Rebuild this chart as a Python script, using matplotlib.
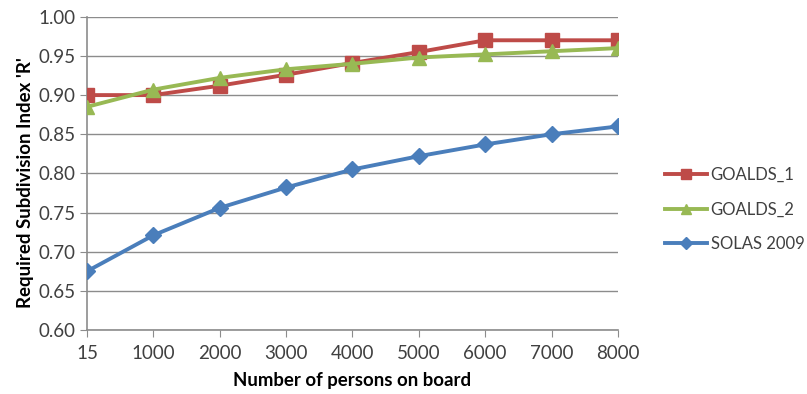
import matplotlib
matplotlib.use("Agg")
from matplotlib import pyplot as plt

persons = ["15", "1000", "2000", "3000", "4000", "5000", "6000", "7000", "8000"]

goalds_1 = [0.900, 0.900, 0.912, 0.926, 0.941, 0.955, 0.970, 0.970, 0.970]
goalds_2 = [0.885, 0.907, 0.922, 0.933, 0.940, 0.948, 0.952, 0.956, 0.960]
solas_2009 = [0.675, 0.721, 0.756, 0.782, 0.805, 0.822, 0.837, 0.850, 0.860]

plt.rcParams['font.family'] = ['Lato', 'DejaVu Sans']

fig = plt.figure(figsize=(8.07, 3.94), dpi=100)
ax = fig.add_axes([0.1078, 0.1624, 0.658, 0.795])

x = list(range(len(persons)))
ax.plot(x, goalds_1, color='#BE4B48', lw=2.8, marker='s', ms=10, label='GOALDS_1', zorder=3)
ax.plot(x, goalds_2, color='#98B954', lw=2.8, marker='^', ms=10, label='GOALDS_2', zorder=4)
ax.plot(x, solas_2009, color='#4A7EBB', lw=2.8, marker='D', ms=8.5, label='SOLAS 2009', zorder=3)

ax.set_xlim(0, len(persons) - 1)
ax.set_ylim(0.6, 1.0)
ax.set_xticks(x)
ax.set_xticklabels(persons)
ax.set_yticks([0.6 + 0.05 * i for i in range(9)])
ax.set_yticklabels(['%.2f' % (0.6 + 0.05 * i) for i in range(9)])
ax.yaxis.grid(True, color='#8C8C8C', lw=1)
ax.set_axisbelow(True)

for side in ['top', 'right']:
    ax.spines[side].set_visible(False)
for side in ['left', 'bottom']:
    ax.spines[side].set_color('#8C8C8C')
    ax.spines[side].set_linewidth(1.2)

ax.tick_params(axis='both', colors='#8C8C8C', labelcolor='#404040', labelsize=13.5, length=5)
ax.tick_params(axis='x', pad=6)

ax.set_xlabel('Number of persons on board', fontsize=13.4, fontweight='bold', labelpad=7)
ax.set_ylabel("Required Subdivision Index 'R'", fontsize=13.4, fontweight='bold', labelpad=5)
ax.yaxis.set_label_coords(-0.1, 0.47)

ax.legend(loc='center left', bbox_to_anchor=(1.06, 0.385), frameon=False, fontsize=12,
          handlelength=2.5, handletextpad=0.25, labelspacing=1.1, labelcolor='#404040',
          markerscale=0.7)

fig.savefig('out.png', dpi=100)
